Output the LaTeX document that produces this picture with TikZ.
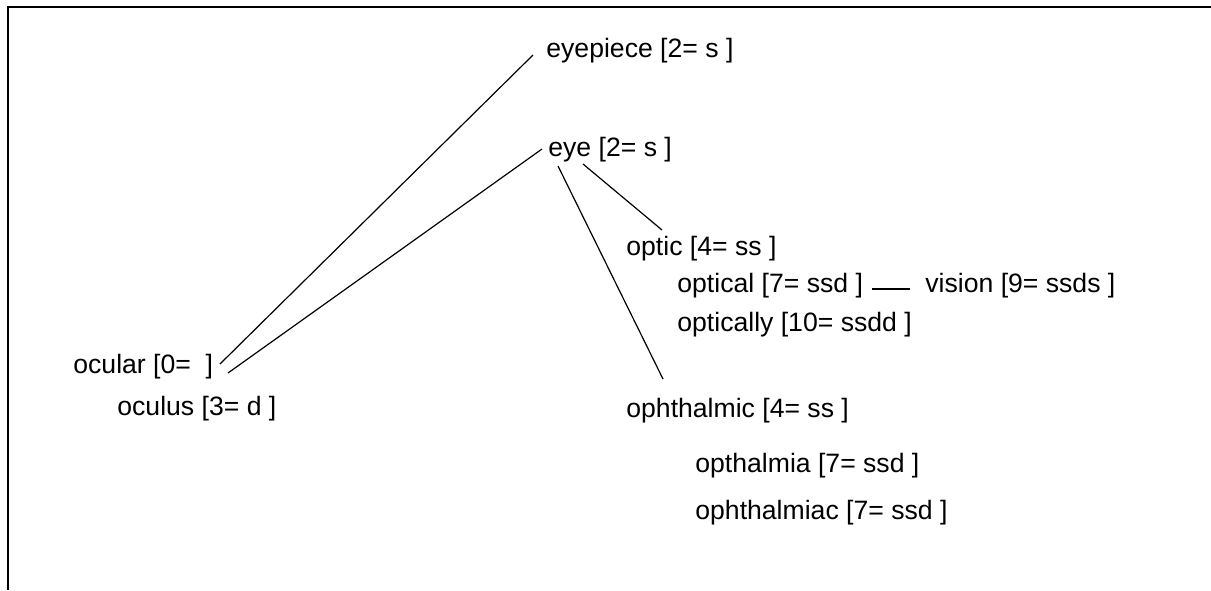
\documentclass[tikz,border=0pt]{standalone}
\usepackage{fontspec}
\setmainfont{Liberation Sans}
\begin{document}
\begin{tikzpicture}[x=0.5pt,y=-0.5pt,
  word/.style={anchor=base west,inner sep=0pt,font=\fontsize{13.3pt}{16pt}\selectfont},
  link/.style={line width=0.6pt},
  frame/.style={line width=1.3pt}]
\useasboundingbox (0,0) rectangle (1211,590);
\draw[frame] (8,590) -- (8,7) -- (1211,7);
\node[word] (eyepiece) at (546,57) {eyepiece [2= s ]};
\node[word] (eye) at (548,156) {eye [2= s ]};
\node[word] (optic) at (626,255) {optic [4= ss ]};
\node[word] (optical) at (677,292) {optical [7= ssd ]};
\node[word] (vision) at (925,292) {vision [9= ssds ]};
\node[word] (optically) at (677,331) {optically [10= ssdd ]};
\node[word] (ophthalmic) at (626,417) {ophthalmic [4= ss ]};
\node[word] (opthalmia) at (695,472) {opthalmia [7= ssd ]};
\node[word] (ophthalmiac) at (695,519) {ophthalmiac [7= ssd ]};
\node[word] (ocular) at (73,373) {ocular [0=\ \ ]};
\node[word] (oculus) at (117,415) {oculus [3= d ]};
\draw[link] ([shift={(-13,-2)}]eyepiece.base west) -- ([shift={(147,-9)}]ocular.base west);
\draw[link] ([shift={(-6,-7)}]eye.base west) -- ([shift={(155,0)}]ocular.base west);
\draw[link] ([shift={(35,8)}]eye.base west) -- ([shift={(36,-25)}]optic.base west);
\draw[link] ([shift={(10,10)}]eye.base west) -- ([shift={(37,-38)}]ophthalmic.base west);
\draw[link] ([shift={(195,-3)}]optical.base west) -- ([shift={(-15,-3)}]vision.base west);
\end{tikzpicture}
\end{document}
